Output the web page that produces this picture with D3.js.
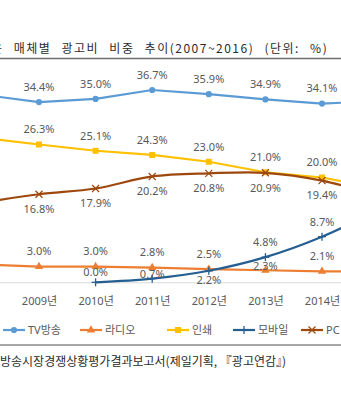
<!DOCTYPE html>
<html>
<head>
	<meta charset="utf-8">
	<script src="https://d3js.org/d3.v7.min.js"></script>
	<title></title>
	<style type="text/css">
		body{ margin:0; background:#fff; }
		#chart{ width:341px; height:400px; overflow:hidden; }
		.lbl{ font-family:"Noto Sans","Noto Sans CJK KR",sans-serif; font-size:11px; fill:#595959; }
	</style>
</head>
<body>

	<div id="chart"></div>

	<script type="text/javascript">

		// 연도별 매체 광고비 비중 (%)
		var years  = [2008, 2009, 2010, 2011, 2012, 2013, 2014, 2015];
		var tv     = [35.8, 34.4, 35.0, 36.7, 35.9, 34.9, 34.1, 34.6];
		var radio  = [3.4, 3.0, 3.0, 2.8, 2.5, 2.3, 2.1, 2.0];
		var print  = [27.6, 26.3, 25.1, 24.3, 23.0, 21.0, 20.0, 18.0];
		var mobile = [null, null, 0.0, 0.7, 2.2, 4.8, 8.7, 13.8];
		var pc     = [15.2, 16.8, 17.9, 20.2, 20.8, 20.9, 19.4, 16.5];
		var names  = ["TV방송", "라디오", "인쇄", "모바일", "PC"];

		var series = [
			{name: names[0], values: tv,     color: "#5b9bd5", marker: "circle",   label: -15, smooth: false},
			{name: names[1], values: radio,  color: "#ed7d31", marker: "triangle", label: -15, smooth: false},
			{name: names[2], values: print,  color: "#ffc000", marker: "square",   label: -15, smooth: false},
			{name: names[3], values: mobile, color: "#255e91", marker: "plus",     label: -15, smooth: true},
			{name: names[4], values: pc,     color: "#9e480e", marker: "cross",    label: 15,  smooth: true}
		];

		// 겹치는 레이블 위치 조정
		var labelFix = {"모바일-2010": -10, "모바일-2011": -4, "모바일-2012": 9, "라디오-2013": -4.5};

		var width = 341, height = 400;

		var svg = d3.select("#chart")
		  .append("svg")
		  .attr("width", width)
		  .attr("height", height);

		// 제목
		svg.append("text")
		  .attr("x", -9).attr("y", 53)
		  .style("font-family", "'Noto Sans CJK KR'")
		  .style("font-size", "12px")
		  .style("letter-spacing", "1.5px")
		  .style("word-spacing", "6px")
		  .attr("fill", "#2b2b2b")
		  .text("은 매체별 광고비 비중 추이(2007~2016) (단위: %)");

		svg.append("line")
		  .attr("x1", 0).attr("x2", width).attr("y1", 58.5).attr("y2", 58.5)
		  .attr("stroke", "#6e6e6e").attr("stroke-width", 1.5);

		var xscale = d3.scalePoint().domain(years).range([39 - 56.6, 322 + 56.6]);
		var yscale = d3.scaleLinear().domain([0, 40]).range([282.3, 72.7]);

		// x축
		var xaxis = svg.append("g")
		  .attr("transform", "translate(0," + yscale(0) + ")")
		  .call(d3.axisBottom(xscale).tickSize(0).tickPadding(15).tickFormat(function(d){ return d + "년"; }));
		xaxis.select(".domain").attr("stroke", "#d9d9d9");
		xaxis.selectAll("text").attr("class", "lbl").attr("fill", "#595959");

		var symbols = {
			circle: d3.symbol().type(d3.symbolCircle).size(30),
			triangle: d3.symbol().type(d3.symbolTriangle).size(30),
			square: d3.symbol().type(d3.symbolSquare).size(36)
		};

		function drawMarker(g, type, color) {
			if (type === "plus") {
				g.append("line").attr("y1", -4).attr("y2", 4).attr("stroke", color).attr("stroke-width", 1.3);
				g.append("line").attr("x1", -4).attr("x2", 4).attr("stroke", color).attr("stroke-width", 1.3);
			} else if (type === "cross") {
				g.append("path").attr("d", "M-3.5,-3.5L3.5,3.5M-3.5,3.5L3.5,-3.5").attr("stroke", color).attr("stroke-width", 1.2).attr("fill", "none");
			} else {
				g.append("path").attr("d", symbols[type]()).attr("fill", color);
			}
		}

		series.forEach(function(s) {
			var pts = years.map(function(y, i){ return {year: y, v: s.values[i]}; })
			  .filter(function(d){ return d.v !== null; });

			var line = d3.line()
			  .x(function(d){ return xscale(d.year); })
			  .y(function(d){ return yscale(d.v); })
			  .curve(s.smooth ? d3.curveCatmullRom.alpha(0) : d3.curveLinear);

			svg.append("path")
			  .datum(pts)
			  .attr("d", line)
			  .attr("stroke", s.color)
			  .style("stroke-width", 2.2)
			  .style("fill", "none");

			pts.forEach(function(d) {
				var g = svg.append("g").attr("transform", "translate(" + xscale(d.year) + "," + yscale(d.v) + ")");
				drawMarker(g, s.marker, s.color);

				var dy = labelFix[s.name + "-" + d.year];
				if (dy === undefined) dy = s.label;
				svg.append("text")
				  .attr("class", "lbl")
				  .attr("x", xscale(d.year))
				  .attr("y", yscale(d.v) + dy)
				  .attr("dy", "0.35em")
				  .attr("text-anchor", "middle")
				  .text(d.v.toFixed(1) + "%");
			});
		});

		// 범례
		var legendX = [3, 80, 167, 233, 301];
		series.forEach(function(s, i) {
			var g = svg.append("g").attr("transform", "translate(" + legendX[i] + ",330)");
			g.append("line").attr("x1", 0).attr("x2", 22).attr("stroke", s.color).attr("stroke-width", 2.2);
			drawMarker(g.append("g").attr("transform", "translate(11,0)"), s.marker, s.color);
			g.append("text").attr("class", "lbl").attr("x", 25).attr("dy", "0.35em").text(s.name);
		});

		svg.append("line")
		  .attr("x1", 0).attr("x2", width).attr("y1", 345).attr("y2", 345)
		  .attr("stroke", "#8a8a8a").attr("stroke-width", 1.5);

		// 출처
		svg.append("text")
		  .attr("x", 0).attr("y", 366)
		  .style("font-family", "'Noto Sans CJK KR'")
		  .style("font-size", "12px")
		  .attr("fill", "#2b2b2b")
		  .text("방송시장경쟁상황평가결과보고서(제일기획, 『광고연감』)");

	</script>

</body>
</html>
